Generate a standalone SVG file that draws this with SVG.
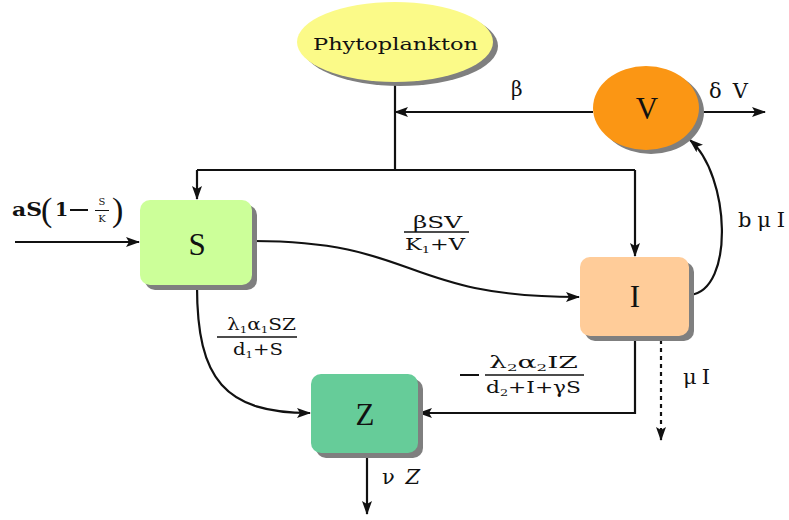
<svg xmlns="http://www.w3.org/2000/svg" width="789" height="520" viewBox="0 0 789 520">
<defs>
<marker id="ah" markerWidth="14" markerHeight="10" refX="13" refY="5" orient="auto" markerUnits="userSpaceOnUse">
<path d="M0,0 L14,5 L0,10 L3,5 Z" fill="#111"/>
</marker>
</defs>
<style>
.t{font-family:"Liberation Serif","DejaVu Serif",serif;fill:#111}
.d{font-family:"DejaVu Serif","Liberation Serif",serif;fill:#111}
.n{font-size:31px;text-anchor:middle}
.m{font-size:17px}
.c{stroke:#111;stroke-width:2.2;fill:none}
.sh{fill:#7f7f7f}
.fl{stroke:#111;stroke-width:1.6}
</style>
<rect width="789" height="520" fill="#fff"/>
<g id="connectors">
<path class="c" d="M395,84 V170"/>
<path class="c" d="M593,112 H395" marker-end="url(#ah)"/>
<path class="c" d="M197,170 H635"/>
<path class="c" d="M197,170 V199" marker-end="url(#ah)"/>
<path class="c" d="M635,170 V256" marker-end="url(#ah)"/>
<path class="c" d="M15,242 H139" marker-end="url(#ah)"/>
<path class="c" d="M252,241 C420,241 400,297 579,297" marker-end="url(#ah)"/>
<path class="c" d="M197,286 C197,380 225,413 310,413" marker-end="url(#ah)"/>
<path class="c" d="M635,337 V413 H419" marker-end="url(#ah)"/>
<path class="c" d="M690,295 C735,290 730,175 690,140" marker-end="url(#ah)"/>
<path class="c" d="M700,112 H765" marker-end="url(#ah)"/>
<path class="c" d="M661,340 V440" stroke-dasharray="4,4" marker-end="url(#ah)"/>
<path class="c" d="M367,454 V514" marker-end="url(#ah)"/>
</g>
<g id="phytoplankton">
<ellipse class="sh" cx="400" cy="46" rx="98" ry="40"/>
<ellipse cx="395" cy="42" rx="98" ry="40" fill="#fbfa88"/>
<text class="d" x="313" y="50" font-size="17" textLength="165" lengthAdjust="spacingAndGlyphs">Phytoplankton</text>
</g>
<g id="V">
<ellipse class="sh" cx="651" cy="112" rx="53" ry="42"/>
<ellipse cx="646" cy="108" rx="53" ry="42" fill="#fb9614"/>
<text class="t n" x="647" y="119">V</text>
</g>
<g id="S">
<rect class="sh" x="145" y="205" width="112" height="85" rx="10"/>
<rect x="140" y="200" width="112" height="85" rx="10" fill="#ccff99"/>
<text class="t n" x="197" y="255">S</text>
</g>
<g id="I">
<rect class="sh" x="585" y="262" width="109" height="79" rx="10"/>
<rect x="580" y="257" width="109" height="79" rx="10" fill="#ffcc99"/>
<text class="t n" x="635" y="307">I</text>
</g>
<g id="Z">
<rect class="sh" x="316" y="379" width="107" height="79" rx="10"/>
<rect x="311" y="374" width="107" height="79" rx="10" fill="#66cc99"/>
<text class="t n" x="365" y="425">Z</text>
</g>
<g id="labels">
<text class="d" x="12" y="216" font-size="19" font-weight="bold" textLength="30" lengthAdjust="spacingAndGlyphs">aS</text>
<text class="t" x="41" y="221" font-size="34">(</text>
<text class="d" x="55" y="216" font-size="19" font-weight="bold">1</text>
<path d="M70,210 H88" stroke="#111" stroke-width="2"/>
<text class="d" x="102" y="205" font-size="10" text-anchor="middle">S</text>
<path d="M95,210.5 H109" stroke="#111" stroke-width="1"/>
<text class="d" x="102" y="222" font-size="10" text-anchor="middle">K</text>
<text class="t" x="112" y="221" font-size="34">)</text>
<text class="d m" x="413" y="228" textLength="49" lengthAdjust="spacingAndGlyphs">βSV</text>
<path class="fl" d="M404,232 H469"/>
<text class="d m" x="405" y="250" textLength="60" lengthAdjust="spacingAndGlyphs">K<tspan font-size="10" dy="3">1</tspan><tspan dy="-3">+V</tspan></text>
<text class="d m" x="227" y="330" textLength="69" lengthAdjust="spacingAndGlyphs">λ<tspan font-size="10" dy="3">1</tspan><tspan dy="-3">α</tspan><tspan font-size="10" dy="3">1</tspan><tspan dy="-3">SZ</tspan></text>
<path class="fl" d="M217,337 H297"/>
<text class="d m" x="233" y="355" textLength="50" lengthAdjust="spacingAndGlyphs">d<tspan font-size="10" dy="3">1</tspan><tspan dy="-3">+S</tspan></text>
<path d="M460,375 H479" stroke="#111" stroke-width="2"/>
<text class="d m" x="489" y="368" textLength="89" lengthAdjust="spacingAndGlyphs">λ<tspan font-size="10" dy="3">2</tspan><tspan dy="-3">α</tspan><tspan font-size="10" dy="3">2</tspan><tspan dy="-3">IZ</tspan></text>
<path class="fl" d="M485,375 H584"/>
<text class="d m" x="486" y="393" textLength="95" lengthAdjust="spacingAndGlyphs">d<tspan font-size="10" dy="3">2</tspan><tspan dy="-3">+I+γS</tspan></text>
<text class="d" x="511" y="96" font-size="20">β</text>
<text class="d" x="709" y="98" font-size="21" textLength="39" lengthAdjust="spacing">δV</text>
<text class="d" x="738" y="227" font-size="21" textLength="47" lengthAdjust="spacing">bμI</text>
<text class="d" x="683" y="384" font-size="21" textLength="27" lengthAdjust="spacing">μI</text>
<text class="d" x="382" y="484" font-size="21" textLength="38" lengthAdjust="spacing">ν<tspan font-style="italic">Z</tspan></text>
</g>
</svg>
